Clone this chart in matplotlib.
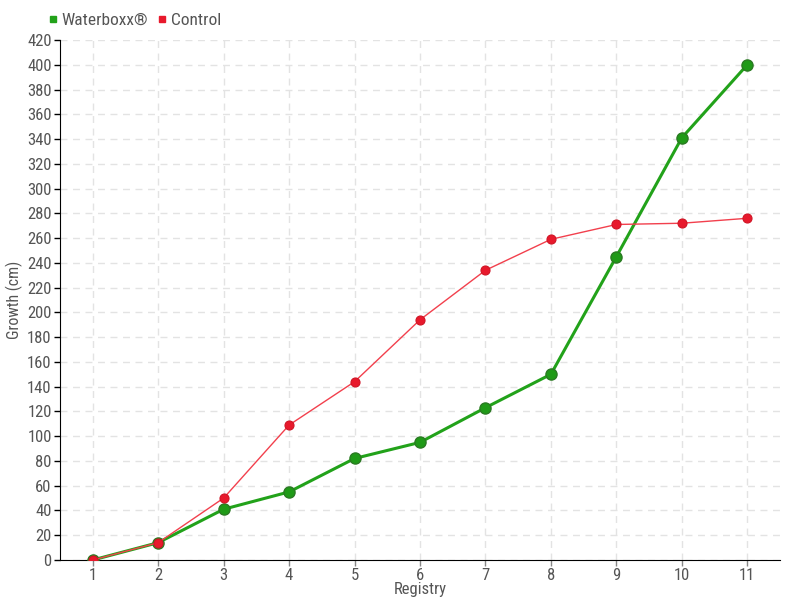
import matplotlib
matplotlib.use("Agg")
import matplotlib.pyplot as plt
from matplotlib.lines import Line2D
from matplotlib import font_manager

registry = [1, 2, 3, 4, 5, 6, 7, 8, 9, 10, 11]
waterboxx = [0, 14, 41, 55, 82, 95, 123, 150, 245, 341, 400]
control = [0, 14, 50, 109, 144, 194, 234, 259, 271, 272, 276]
yticks = list(range(0, 421, 20))

names = {f.name for f in font_manager.fontManager.ttflist}
fam = 'DejaVu Sans'
for cand in ['Liberation Sans Narrow', 'Roboto Condensed', 'Open Sans Condensed', 'DejaVu Sans']:
    if cand in names:
        fam = cand
        break
plt.rcParams['font.family'] = [fam, 'DejaVu Sans']
plt.rcParams['font.stretch'] = 'condensed'

fig = plt.figure(figsize=(8, 6), dpi=100)
ax = fig.add_axes([60/800, 40/600, 720/800, 520/600])

ax.plot(registry, waterboxx, color='#22a21a', lw=2.2, marker='o', ms=8,
        markerfacecolor='#1f9a17', markeredgecolor='#2a7a22', mew=1, zorder=3)
ax.plot(registry, control, color='#f2404d', lw=1, marker='o', ms=6.5,
        markerfacecolor='#e8192c', markeredgecolor='#d01525', mew=0.8, zorder=4)

ax.set_xlim(0.5, 11.5)
ax.set_ylim(0, 420)
ax.set_xticks(registry)
ax.set_yticks(yticks)
ax.grid(True, color='#e3e3e3', ls=(0, (5, 4)), lw=1)
ax.set_axisbelow(True)
for s in ['top', 'right']:
    ax.spines[s].set_visible(False)
ax.spines['left'].set_color('black')
ax.spines['bottom'].set_color('black')
ax.tick_params(axis='both', labelsize=12, labelcolor='#555555', length=4, width=1, pad=2)
ax.tick_params(axis='x', color='#888888')
ax.set_ylabel('Growth (cm)', fontsize=11.5, color='#555555')
ax.yaxis.set_label_coords(-0.052, 0.5)
ax.set_xlabel('Registry', fontsize=12, color='#555555', labelpad=-1)

handles = [Line2D([], [], ls='none', marker='s', ms=5, color='#22a21a'),
           Line2D([], [], ls='none', marker='s', ms=5, color='#e8192c')]
fig.legend(handles, ['Waterboxx®', 'Control'], loc='upper left',
           bbox_to_anchor=(46/800, 1 - 13/600), ncol=2, frameon=False,
           fontsize=12.5, labelcolor='#555555', handletextpad=0.1,
           columnspacing=0.4, handlelength=0.8, borderaxespad=0, borderpad=0)

fig.savefig('out.png', dpi=100)
